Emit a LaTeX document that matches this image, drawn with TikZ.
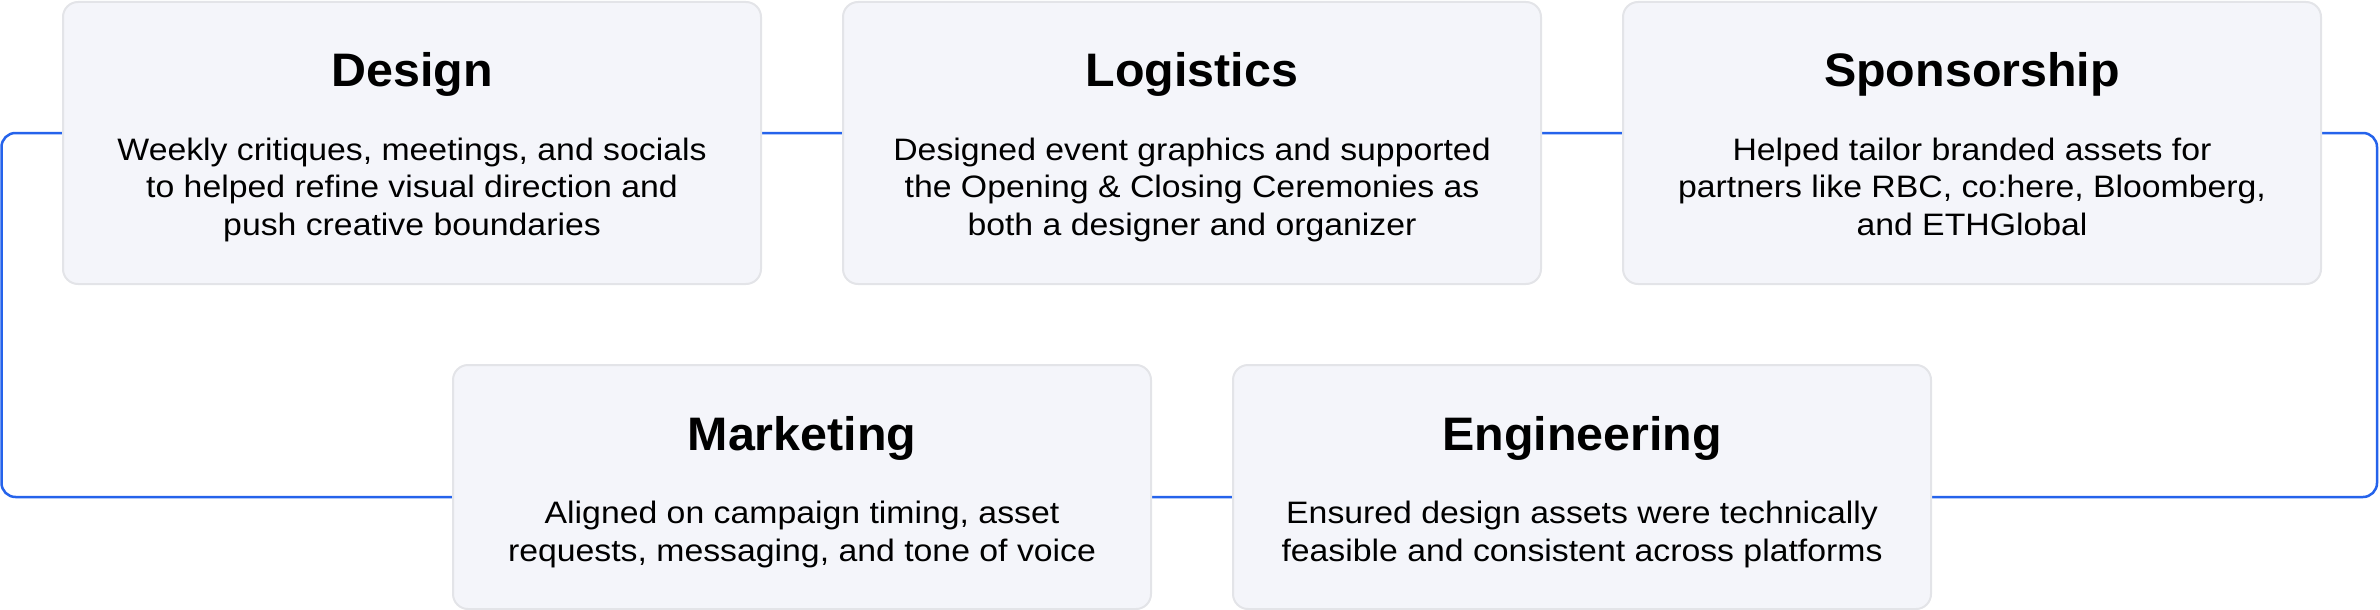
\documentclass[tikz,border=0pt]{standalone}
\usepackage{fontspec}
\setmainfont{Liberation Sans}
\newfontfamily\bodyfont[FakeStretch=1.09]{Liberation Sans}
\newfontfamily\titlefont[FakeStretch=1.03]{Liberation Sans Bold}
\definecolor{boxfill}{HTML}{F4F5FA}
\definecolor{boxline}{HTML}{E3E4E8}
\definecolor{flow}{HTML}{2563EB}
\begin{document}
\begin{tikzpicture}[x=1pt,y=-1pt,
  card/.style={draw=boxline, line width=2pt, fill=boxfill, rounded corners=15pt, minimum width=698pt, inner sep=0pt, anchor=north west},
  toprow/.style={card, minimum height=282pt},
  botrow/.style={card, minimum height=244pt},
  ttl/.style={anchor=base, font=\titlefont\fontsize{47}{56}\selectfont, inner sep=0pt},
  body/.style={anchor=base, align=center, font=\bodyfont\fontsize{31}{37.5}\selectfont, inner sep=0pt},
  conn/.style={draw=flow, line width=2.5pt, rounded corners=14pt}]
\useasboundingbox (0,0) rectangle (2380,610);
\coordinate (tl) at (1.5,133);
\coordinate (br) at (2377,497);
\draw[conn] (tl) rectangle (br);
% top row
\node[toprow] (design) at (62,1) {};
\node[toprow] (logistics) at (842,1) {};
\node[toprow] (sponsor) at (1622,1) {};
% bottom row
\node[botrow] (marketing) at (452,364) {};
\node[botrow] (engineering) at (1232,364) {};
% texts (body anchored at last baseline)
\node[ttl] (t1) at (design.north |- 0,86) {Design};
\node[body] (b1) at (design.north |- 0,235) {Weekly critiques, meetings, and socials\\to helped refine visual direction and\\push creative boundaries};
\node[ttl] (t2) at (logistics.north |- 0,86) {Logistics};
\node[body] (b2) at (logistics.north |- 0,235) {Designed event graphics and supported\\the Opening \& Closing Ceremonies as\\both a designer and organizer};
\node[ttl] (t3) at (sponsor.north |- 0,86) {Sponsorship};
\node[body] (b3) at (sponsor.north |- 0,235) {Helped tailor branded assets for\\partners like RBC, co:here, Bloomberg,\\and ETHGlobal};
\node[ttl] (t4) at (marketing.north |- 0,450) {Marketing};
\node[body] (b4) at (marketing.north |- 0,561) {Aligned on campaign timing, asset\\requests, messaging, and tone of voice};
\node[ttl] (t5) at (engineering.north |- 0,450) {Engineering};
\node[body] (b5) at (engineering.north |- 0,561) {Ensured design assets were technically\\feasible and consistent across platforms};
\end{tikzpicture}
\end{document}
